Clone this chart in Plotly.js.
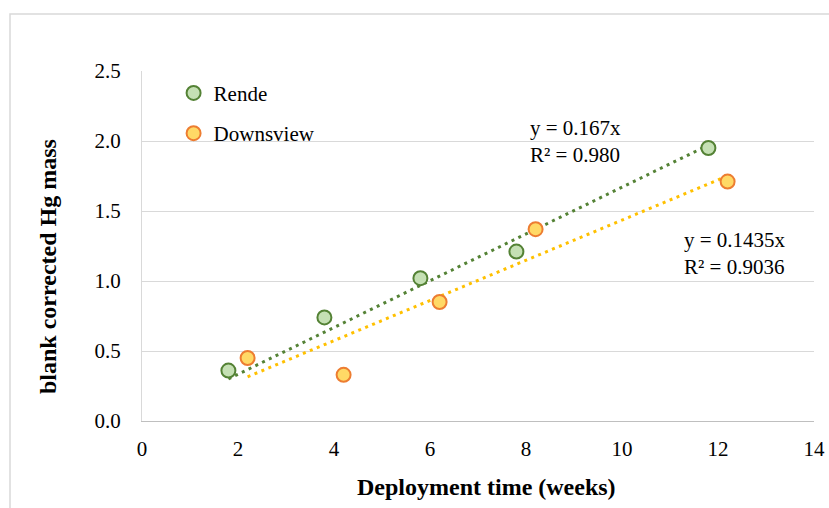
<!DOCTYPE html>
<html>
<head>
<meta charset="utf-8">
<script src="https://cdn.plot.ly/plotly-3.0.1.min.js"></script>
<style>
  html, body { margin: 0; padding: 0; background: #fff; }
  #chart { width: 829px; height: 508px; }
</style>
</head>
<body>
<div id="chart"></div>
<script>
// Deployment time (weeks) and blank corrected Hg mass per site
const rendeWeeks = [1.8, 3.8, 5.8, 7.8, 11.8];
const rendeMass = [0.36, 0.74, 1.02, 1.21, 1.95];
const downsviewWeeks = [2.2, 4.2, 6.2, 8.2, 12.2];
const downsviewMass = [0.45, 0.33, 0.85, 1.37, 1.71];

// Linear fits through the origin
const rendeSlope = 0.167;
const rendeR2 = '0.980';
const downsviewSlope = 0.1435;
const downsviewR2 = '0.9036';

const xTicks = [0, 2, 4, 6, 8, 10, 12, 14];
const yTicks = [0.0, 0.5, 1.0, 1.5, 2.0, 2.5];

const xTitle = 'Deployment time (weeks)';
const yTitle = 'blank corrected Hg mass';

const serif = 'Liberation Serif, Times New Roman, serif';

function fitLine(xs, slope) {
  const x0 = Math.min(...xs), x1 = Math.max(...xs);
  return { x: [x0, x1], y: [slope * x0, slope * x1] };
}
const rFit = fitLine(rendeWeeks, rendeSlope);
const dFit = fitLine(downsviewWeeks, downsviewSlope);

const traces = [
  {
    x: rFit.x, y: rFit.y, mode: 'lines', showlegend: false, hoverinfo: 'skip',
    line: { color: '#548235', width: 3, dash: '3px,4.5px' }
  },
  {
    x: dFit.x, y: dFit.y, mode: 'lines', showlegend: false, hoverinfo: 'skip',
    line: { color: '#ffc000', width: 3, dash: '3px,4.5px' }
  },
  {
    x: rendeWeeks, y: rendeMass, mode: 'markers', name: 'Rende', legendgroup: 'r',
    marker: { size: 14, color: '#c5e0b4', line: { color: '#548235', width: 2 } }
  },
  {
    x: downsviewWeeks, y: downsviewMass, mode: 'markers', name: 'Downsview', legendgroup: 'd',
    marker: { size: 14, color: '#ffd966', line: { color: '#ed7d31', width: 2 } }
  }
];

// plot area spans 142..814 px horizontally and 71..421 px vertically
const PL = 142, PW = 672, PB = 421, PH = 350;
const px = v => (v - PL) / PW;
const py = v => (PB - v) / PH;

const layout = {
  width: 829, height: 508,
  margin: { l: 142, r: 15, t: 71, b: 87 },
  paper_bgcolor: '#ffffff', plot_bgcolor: '#ffffff',
  font: { family: serif, size: 21, color: '#000' },
  showlegend: true,
  legend: {
    x: 0.047, y: 0.995, xanchor: 'left', yanchor: 'top',
    font: { family: serif, size: 21, color: '#000' },
    tracegroupgap: 10, itemwidth: 30, bgcolor: 'rgba(0,0,0,0)'
  },
  xaxis: {
    range: [0, 14], tickvals: xTicks, ticktext: xTicks.map(String),
    showgrid: false, zeroline: false,
    showline: true, linecolor: '#bfbfbf', linewidth: 1,
    ticks: '', ticklabelstandoff: 9,
    tickfont: { family: serif, size: 21 }
  },
  yaxis: {
    range: [0, 2.5], tickvals: yTicks, ticktext: yTicks.map(v => v.toFixed(1)),
    showgrid: true, gridcolor: '#d9d9d9', gridwidth: 1, zeroline: false,
    showline: true, linecolor: '#d9d9d9', linewidth: 1,
    ticks: '', ticklabelstandoff: 16,
    tickfont: { family: serif, size: 21 }
  },
  annotations: [
    {
      xref: 'paper', yref: 'paper', x: px(487), y: py(487), xanchor: 'center', yanchor: 'middle',
      showarrow: false, font: { family: serif, size: 24, color: '#000' },
      text: '<b>' + xTitle + '</b>'
    },
    {
      xref: 'paper', yref: 'paper', x: px(48), y: py(267), xanchor: 'center', yanchor: 'middle',
      textangle: -90, showarrow: false, font: { family: serif, size: 24, color: '#000' },
      text: '<b>' + yTitle + '</b>'
    },
    {
      xref: 'x', yref: 'y', x: 8.05, y: 2.0, xanchor: 'left', yanchor: 'middle', align: 'left',
      showarrow: false, font: { family: serif, size: 21, color: '#000' },
      text: 'y = ' + rendeSlope + 'x<br>R² = ' + rendeR2
    },
    {
      xref: 'x', yref: 'y', x: 11.25, y: 1.2, xanchor: 'left', yanchor: 'middle', align: 'left',
      showarrow: false, font: { family: serif, size: 21, color: '#000' },
      text: 'y = ' + downsviewSlope + 'x<br>R² = ' + downsviewR2
    }
  ],
  shapes: [
    {
      type: 'rect', xref: 'paper', yref: 'paper', layer: 'below',
      x0: px(10), x1: px(835), y0: py(515), y1: py(14),
      line: { color: '#d9d9d9', width: 1.5 }, fillcolor: 'rgba(0,0,0,0)'
    }
  ]
};

Plotly.newPlot('chart', traces, layout, { displayModeBar: false, staticPlot: true });
</script>
</body>
</html>
